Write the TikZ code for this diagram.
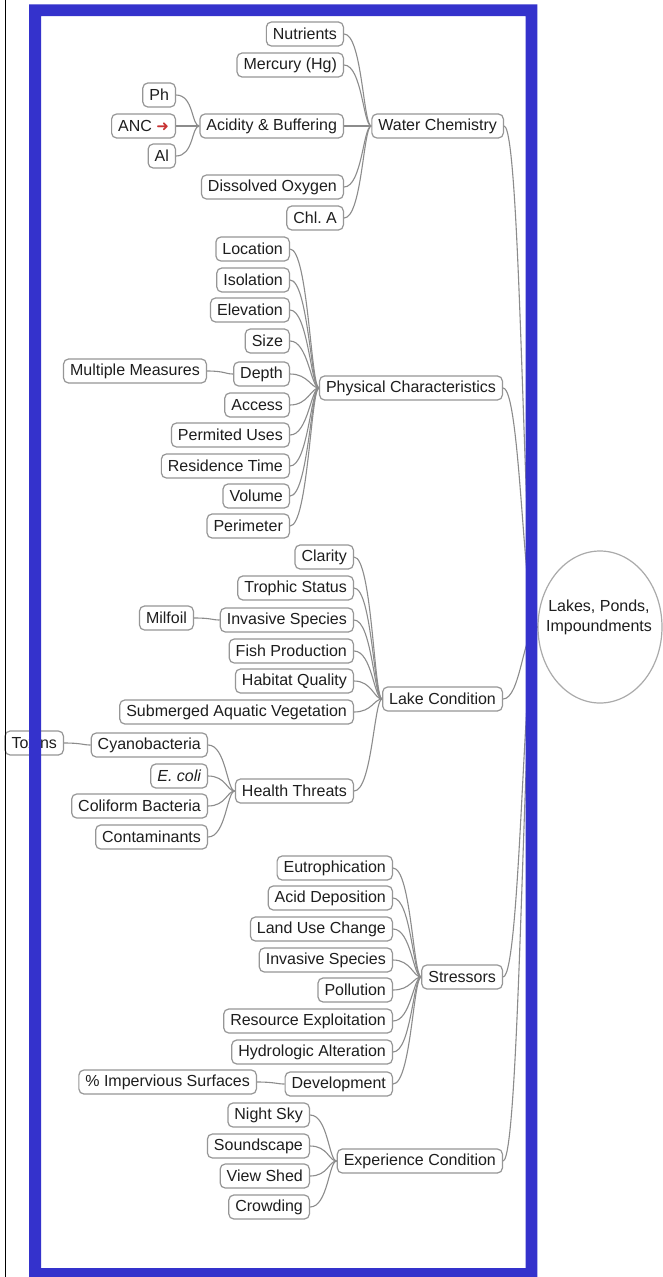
\documentclass[tikz,border=0pt]{standalone}
\usepackage{fontspec}
\setmainfont{Liberation Sans}
\newfontfamily\symfont{DejaVu Sans}
\usetikzlibrary{shapes.geometric}
\pgfdeclarelayer{background}
\pgfsetlayers{background,main}
\frenchspacing

\definecolor{framebl}{RGB}{52,50,204}
\definecolor{boxgray}{RGB}{150,150,150}
\definecolor{linkgray}{RGB}{140,140,140}
\definecolor{txt}{RGB}{30,30,30}
\definecolor{ancred}{RGB}{200,50,50}

\tikzset{
  topic/.style={draw=boxgray, line width=1.2pt, rounded corners=5pt, fill=white,
    inner xsep=6.5pt, inner ysep=0pt, minimum height=24pt, anchor=east,
    text=txt, font=\fontsize{16}{18}\selectfont},
  link/.style={draw=linkgray, line width=1.1pt},
}

\begin{document}
\begin{tikzpicture}[x=1pt,y=-1pt]
\useasboundingbox (0,0) rectangle (662,1277);

% ---------- Water Chemistry ----------
\node[topic] (nut)  at (344,34)  {Nutrients};
\node[topic] (hg)   at (344,65)  {Mercury (Hg)};
\node[topic] (acid) at (344,126) {Acidity \& Buffering};
\node[topic] (dox)  at (344,187) {Dissolved Oxygen};
\node[topic] (chl)  at (344,218) {Chl. A};
\node[topic] (wc)   at (504,126) {Water Chemistry};
\node[topic] (ph)   at (176,95)  {Ph};
\node[topic] (anc)  at (176,126) {ANC {\symfont\fontsize{15}{16}\selectfont\color{ancred}➜}};
\node[topic] (al)   at (176,156) {Al};

% ---------- Physical Characteristics ----------
\node[topic] (loc)    at (290,249) {Location};
\node[topic] (iso)    at (290,280) {Isolation};
\node[topic] (elev)   at (290,310) {Elevation};
\node[topic] (size)   at (290,341) {Size};
\node[topic] (depth)  at (290,374) {Depth};
\node[topic] (access) at (290,405) {Access};
\node[topic] (permit) at (290,435) {Permited Uses};
\node[topic] (resid)  at (290,466) {Residence Time};
\node[topic] (vol)    at (290,496) {Volume};
\node[topic] (perim)  at (290,526) {Perimeter};
\node[topic] (mm)     at (207,371) {Multiple Measures};
\node[topic] (phys)   at (503,388) {Physical Characteristics};

% ---------- Lake Condition ----------
\node[topic] (clar)   at (354,557) {Clarity};
\node[topic] (troph)  at (354,588) {Trophic Status};
\node[topic] (inva)   at (354,620) {Invasive Species};
\node[topic] (fish)   at (354,651) {Fish Production};
\node[topic] (hab)    at (354,681) {Habitat Quality};
\node[topic] (sav)    at (354,712) {Submerged Aquatic Vegetation};
\node[topic] (health) at (354,791) {Health Threats};
\node[topic] (milf)   at (194,618) {Milfoil};
\node[topic] (lake)   at (503,699) {Lake Condition};
\node[topic] (cyano)  at (208,745) {Cyanobacteria};
\node[topic] (ecoli)  at (208,776) {\itshape E. coli};
\node[topic] (coli)   at (208,806) {Coliform Bacteria};
\node[topic] (contam) at (208,837) {Contaminants};
\node[topic] (toxins) at (64,743)  {Toxins};

% ---------- Stressors ----------
\node[topic] (eut)    at (393,868)  {Eutrophication};
\node[topic] (adep)   at (393,898)  {Acid Deposition};
\node[topic] (luc)    at (393,929)  {Land Use Change};
\node[topic] (invb)   at (393,960)  {Invasive Species};
\node[topic] (poll)   at (393,990)  {Pollution};
\node[topic] (resex)  at (393,1021) {Resource Exploitation};
\node[topic] (hydro)  at (393,1052) {Hydrologic Alteration};
\node[topic] (dev)    at (393,1084) {Development};
\node[topic] (imperv) at (257,1082) {\% Impervious Surfaces};
\node[topic] (stress) at (503,977)  {Stressors};

% ---------- Experience Condition ----------
\node[topic] (night) at (310,1115) {Night Sky};
\node[topic] (sound) at (310,1146) {Soundscape};
\node[topic] (view)  at (310,1176) {View Shed};
\node[topic] (crowd) at (310,1207) {Crowding};
\node[topic] (exper) at (503,1161) {Experience Condition};

% ---------- central topic ----------
\node[ellipse, draw={rgb,255:red,170;green,170;blue,170}, line width=1.2pt,
      minimum width=124pt, minimum height=152pt, inner sep=0pt] (lakes) at (600,627) {};
\node[align=center, text=txt, font=\fontsize{16}{20}\selectfont, inner sep=0pt]
      (lakestext) at (599,617) {Lakes, Ponds,\\Impoundments};

% ---------- connectors ----------
\begin{pgfonlayer}{background}
\fill[white] (0,0) rectangle (662,1277);
\foreach \c/\p in {nut/wc, hg/wc, acid/wc, dox/wc, chl/wc,
                   ph/acid, anc/acid, al/acid,
                   loc/phys, iso/phys, elev/phys, size/phys, depth/phys, access/phys,
                   permit/phys, resid/phys, vol/phys, perim/phys, mm/depth,
                   clar/lake, troph/lake, inva/lake, fish/lake, hab/lake, sav/lake,
                   health/lake, milf/inva,
                   cyano/health, ecoli/health, coli/health, contam/health, toxins/cyano,
                   eut/stress, adep/stress, luc/stress, invb/stress, poll/stress,
                   resex/stress, hydro/stress, dev/stress, imperv/dev,
                   night/exper, sound/exper, view/exper, crowd/exper}
  \draw[link] (\c.east) .. controls +(18,0) and +(-8,0) .. (\p.west);
\foreach \p in {wc, phys, lake, stress, exper}
  \draw[link] (\p.east) .. controls +(18,0) and +(-14,0) .. (lakes.west);
\end{pgfonlayer}

% ---------- page frame ----------
\draw[black, line width=1.5pt] (5.5,0) -- (5.5,1277);
\fill[framebl, even odd rule] (29,4.3) rectangle (537.3,1282)
                              (41,16) rectangle (525.7,1268);
\end{tikzpicture}
\end{document}
